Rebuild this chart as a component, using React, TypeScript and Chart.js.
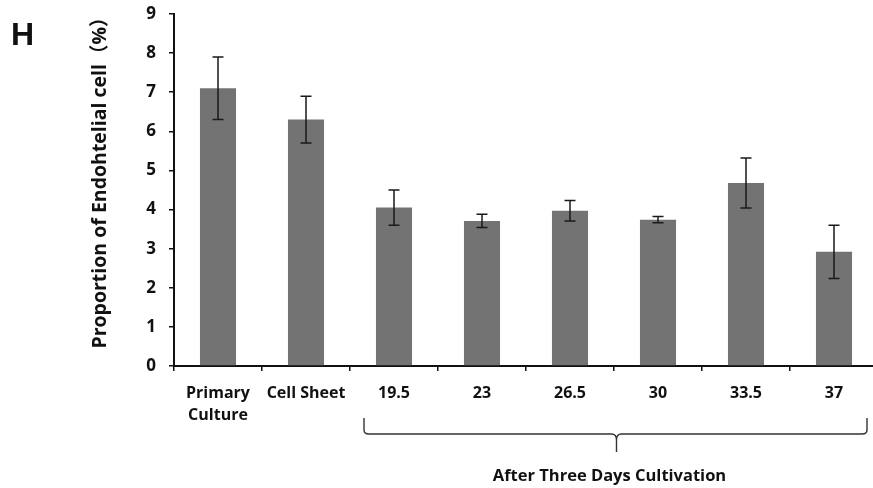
import React, { useEffect, useRef } from "react";
import { Chart, registerables } from "chart.js";

Chart.register(...registerables);

const categories: (string | string[])[] = [
  ["Primary", "Culture"],
  "Cell Sheet",
  "19.5",
  "23",
  "26.5",
  "30",
  "33.5",
  "37",
];
const values = [7.1, 6.3, 4.05, 3.71, 3.97, 3.74, 4.68, 2.92];
const errors = [0.8, 0.6, 0.45, 0.17, 0.26, 0.08, 0.64, 0.68];
const yMin = 0;
const yMax = 9;
const yStep = 1;
const yTitle = "Proportion of Endohtelial cell（%）";
const panelLetter = "H";
const groupLabel = "After Three Days Cultivation";
const groupFrom = 2;
const groupTo = 7;

const FONT = "'Open Sans', 'Noto Sans CJK SC', sans-serif";

const errorBarPlugin = {
  id: "errorBars",
  afterDatasetsDraw(chart: any) {
    const ctx = chart.ctx;
    const meta = chart.getDatasetMeta(0);
    const ys = chart.scales.y;
    ctx.save();
    ctx.strokeStyle = "#1a1a1a";
    ctx.lineWidth = 1.5;
    meta.data.forEach((bar: any, i: number) => {
      const x = bar.x;
      const top = ys.getPixelForValue(values[i] + errors[i]);
      const bot = ys.getPixelForValue(values[i] - errors[i]);
      const cap = 5.5;
      ctx.beginPath();
      ctx.moveTo(x, top);
      ctx.lineTo(x, bot);
      ctx.moveTo(x - cap, top);
      ctx.lineTo(x + cap, top);
      ctx.moveTo(x - cap, bot);
      ctx.lineTo(x + cap, bot);
      ctx.stroke();
    });
    ctx.restore();
  },
};

const extrasPlugin = {
  id: "extras",
  afterDraw(chart: any) {
    const ctx = chart.ctx;
    const xs = chart.scales.x;
    ctx.save();
    // Panel letter
    ctx.fillStyle = "#111";
    ctx.font = `bold 32px 'Liberation Sans', Arial, sans-serif`;
    ctx.textAlign = "left";
    ctx.textBaseline = "alphabetic";
    ctx.fillText(panelLetter, 11, 45);

    // Y title
    ctx.save();
    ctx.translate(100, 178);
    ctx.rotate(-Math.PI / 2);
    ctx.font = `bold 19.5px ${FONT}`;
    ctx.textAlign = "center";
    ctx.textBaseline = "middle";
    ctx.fillText(yTitle, 0, 0);
    ctx.restore();

    // Brace
    const x1 = xs.getPixelForValue(groupFrom) - 30;
    const x2 = xs.getPixelForValue(groupTo) + 33;
    const mid = (x1 + x2) / 2 + 1;
    const yTop = 418;
    const yLine = 434;
    const yTip = 452;
    ctx.strokeStyle = "#333";
    ctx.lineWidth = 1.4;
    ctx.beginPath();
    ctx.moveTo(x1, yTop);
    ctx.lineTo(x1, yLine - 4);
    ctx.quadraticCurveTo(x1, yLine, x1 + 5, yLine);
    ctx.lineTo(mid - 5, yLine);
    ctx.quadraticCurveTo(mid, yLine, mid, yLine + 6);
    ctx.lineTo(mid, yTip);
    ctx.moveTo(mid, yLine + 6);
    ctx.quadraticCurveTo(mid, yLine, mid + 5, yLine);
    ctx.lineTo(x2 - 5, yLine);
    ctx.quadraticCurveTo(x2, yLine, x2, yLine - 4);
    ctx.lineTo(x2, yTop);
    ctx.stroke();

    ctx.fillStyle = "#111";
    ctx.font = `bold 16.5px ${FONT}`;
    ctx.textAlign = "center";
    ctx.textBaseline = "middle";
    ctx.fillText(groupLabel, mid - 7, 476);
    ctx.restore();
  },
};

export default function App() {
  const ref = useRef<HTMLCanvasElement | null>(null);

  useEffect(() => {
    if (!ref.current) return;
    const chart = new Chart(ref.current, {
      type: "bar",
      data: {
        labels: categories as any,
        datasets: [
          {
            data: values,
            backgroundColor: "#737373",
            borderWidth: 0,
            barPercentage: 0.41,
            categoryPercentage: 1,
          },
        ],
      },
      options: {
        animation: false,
        responsive: false,
        events: [],
        layout: { padding: { left: 0, right: 4, top: 14, bottom: 42 } },
        plugins: {
          legend: { display: false },
          tooltip: { enabled: false },
          title: { display: false },
        },
        scales: {
          x: {
            grid: {
              display: true,
              drawOnChartArea: false,
              drawTicks: true,
              tickLength: 5,
              color: "#111",
              lineWidth: 1.5,
              offset: true,
            },
            border: { display: true, color: "#111", width: 2 },
            ticks: {
              color: "#111",
              font: { family: FONT, size: 16, weight: "bold", lineHeight: 1.4 },
              padding: 11,
              maxRotation: 0,
              autoSkip: false,
            },
            afterFit(scale: any) {
              scale.height = 80;
              scale.paddingLeft = 0;
              scale.paddingRight = 0;
            },
          },
          y: {
            min: yMin,
            max: yMax,
            grid: {
              display: true,
              drawOnChartArea: false,
              drawTicks: true,
              tickLength: 5,
              color: "#111",
              lineWidth: 1.5,
            },
            border: { display: true, color: "#111", width: 2 },
            ticks: {
              stepSize: yStep,
              color: "#111",
              font: { family: FONT, size: 17, weight: "bold" },
              padding: 13,
            },
            afterFit(scale: any) {
              scale.width = 174;
              scale.paddingTop = 0;
              scale.paddingBottom = 0;
            },
          },
        },
      },
      plugins: [errorBarPlugin, extrasPlugin],
    });
    return () => chart.destroy();
  }, []);

  return (
    <div
      style={{
        position: "fixed",
        left: 0,
        top: 0,
        width: 873,
        height: 488,
        overflow: "hidden",
        background: "#fff",
      }}
    >
      <canvas ref={ref} width={882} height={488} style={{ display: "block" }} />
    </div>
  );
}
